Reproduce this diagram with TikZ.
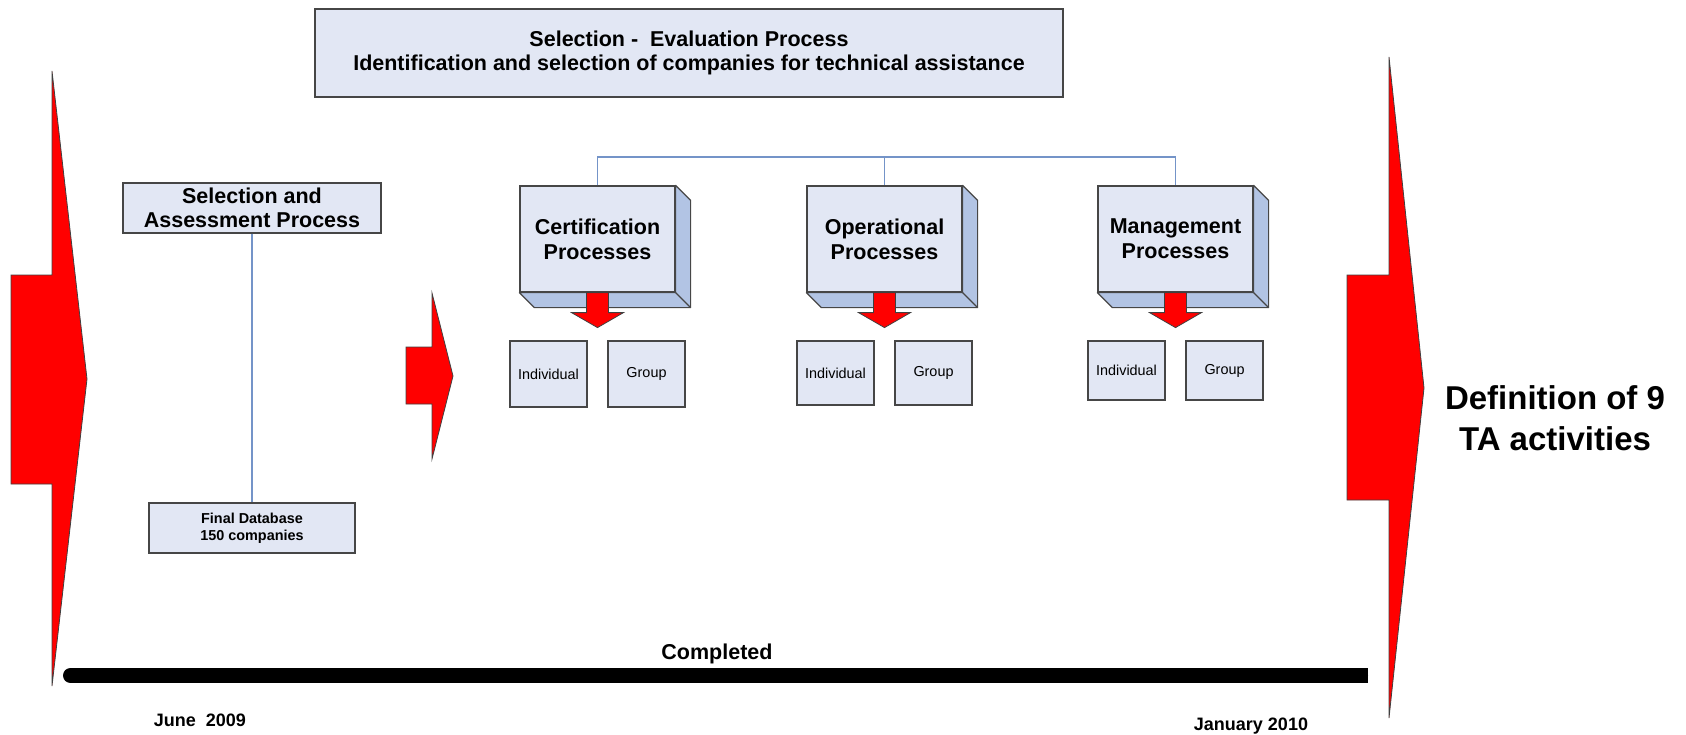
\documentclass[tikz,border=0pt]{standalone}
\usepackage{fontspec}
\setmainfont{Liberation Sans}
\usetikzlibrary{calc,positioning}
\definecolor{boxfill}{RGB}{226,231,244}
\definecolor{boxside}{RGB}{178,196,228}
\definecolor{linkblue}{RGB}{116,148,200}
\definecolor{boxline}{RGB}{70,70,70}
\tikzset{
  flatbox/.style={
    draw = boxline,
    fill = boxfill,
    line width = 1.2pt,
    inner sep = 0pt,
    align = center,
    font = \bfseries\fontsize{21.5}{24}\selectfont
  },
  dbbox/.style={
    flatbox,
    font = \bfseries\fontsize{14.4}{17}\selectfont
  },
  procbox/.style={
    flatbox,
    minimum width = 155,
    minimum height = 106,
    font = \bfseries\fontsize{21.5}{25}\selectfont
  },
  subbox/.style={
    flatbox,
    minimum width = 77,
    font = \fontsize{14.4}{17}\selectfont
  },
  sideface/.style={
    draw = boxline,
    fill = boxside,
    line width = 1.2pt,
    line join = round
  },
  redarrow/.style={
    fill = red,
    draw = black!75,
    line width = 0.8pt
  },
}
\tikzset{
  link/.style={
    draw = linkblue,
    line width = 1.2pt
  },
  timeline/.style={
    line width = 15pt,
    line cap = round
  },
  plain/.style={
    inner sep = 0pt,
    align = center,
    font = \bfseries\fontsize{21.5}{24}\selectfont
  },
  datetext/.style={
    plain,
    font = \bfseries\fontsize{18}{20}\selectfont
  },
  bigtext/.style={
    plain,
    font = \bfseries\fontsize{33}{41}\selectfont
  }
}

\begin{document}
\begin{tikzpicture}[x=1pt,y=-1pt]
  \useasboundingbox (0,0) rectangle (1686,734);
  % big arrows
  \foreach \sl/\b/\tp/\st/\sb/\ht/\hb/\ty in {11/52/87/275/484/71/686/379, 406/432/453/347/404/293/459/376, 1347/1389/1424/275/500/57/718/388}{
    \filldraw[redarrow] (\sl,\st) -- (\b,\st) -- (\b,\ht) -- (\tp,\ty) -- (\b,\hb) -- (\b,\sb) -- (\sl,\sb) -- cycle;
  }
  % title
  \node[flatbox, minimum width=748, minimum height=88] (title) at (689,53) {Selection -\ \ Evaluation Process\\Identification and selection of companies for technical assistance};
  % left column
  \node[flatbox, minimum width=258, minimum height=50] (sap) at (252,208) {Selection and\\Assessment Process};
  \node[dbbox, minimum width=206, minimum height=50] (fdb) at (252,528) {Final Database\\150 companies};
  \draw[link] (sap) -- (fdb);
  % process boxes
  \foreach \n/\x/\t/\sy/\sh in {cert/597.5/Certification/374/66, op/884.5/Operational/373/64, mgmt/1175.5/Management/370.5/59}{
    \node[procbox] (\n) at (\x,239) {\t\\Processes};
    \filldraw[sideface] (\n.north east) -- ++(15,15) -- ($(\n.south east)+(15,15)$) -- ($(\n.south west)+(15,15)$) -- (\n.south west) -- (\n.south east) -- cycle;
    \draw[sideface] (\n.south east) -- ++(15,15);
    \filldraw[redarrow] ($(\n.south)+(-11,0)$) -- ++(0,20) -- ++(-15,0) -- ++(26,15) -- ++(26,-15) -- ++(-15,0) -- ++(0,-20) -- cycle;
    \node[subbox, minimum height=\sh] (\n-ind) at (\x-49,\sy) {Individual};
    \node[subbox, minimum height=\sh] (\n-grp) at (\x+49,\sy) {Group};
  }
  \coordinate (hub) at (884.5,157);
  \draw[link] (cert.north) |- (hub) -| (mgmt.north);
  \draw[link] (hub) -- (op.north);
  % time line
  \coordinate (tstart) at (70.5,675.5);
  \coordinate (tend) at (1360.5,675.5);
  \draw[timeline] (tstart) -- (tend);
  \fill ($(tend)+(0,-7.5)$) rectangle ($(tend)+(7.5,7.5)$);
  \node[plain] (done) at (717,654) {Completed};
  \node[datetext] (d0) at (200,720) {June\ \ 2009};
  \node[datetext] (d1) at (1251,726) {January 2010};
  \node[bigtext] (result) at (1555,418) {Definition of 9\\TA activities};
\end{tikzpicture}
\end{document}
